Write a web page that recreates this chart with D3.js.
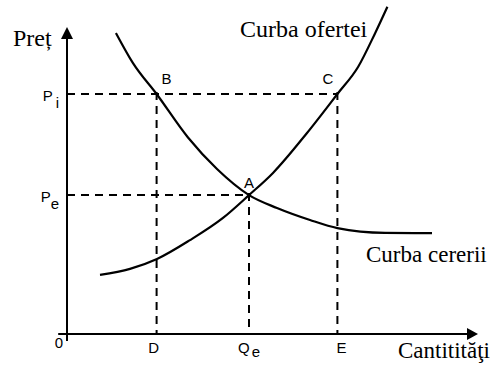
<html>
  <head>
    <meta charset="utf-8" />
    <script src="https://cdnjs.cloudflare.com/ajax/libs/d3/7.6.1/d3.min.js"></script>
    <style>
      body { margin: 0; background: #fff; }
      svg { display: block; }
      .serif { font-family: "Liberation Serif", "Times New Roman", serif; }
      .sans { font-family: "Liberation Sans", Arial, sans-serif; }
    </style>
  </head>
  <body>
    <svg width="493" height="369"></svg>
  </body>

  <script>
    // curves (quantity, price)
    const demandQ = [12.25, 16.5, 22.4, 30.25, 37.5, 45.5, 52.5, 60.75, 67.6, 79.5, 91.25];
    const demandP = [100.3, 90.3, 80, 65.5, 55, 46.3, 42, 38, 35.3, 33.7, 33.6];
    const supplyQ = [8.25, 15.75, 22.5, 30.75, 39, 45.5, 51.5, 60, 67.6, 72.8, 77, 80.1];
    const supplyP = [19.7, 21.7, 25, 31.3, 38.7, 46.3, 53.7, 67, 80, 89.1, 100.2, 109.1];

    // marked points
    const pointNames = ["B", "C", "A"];
    const pointQ = [22.4, 67.6, 45.5];
    const pointP = [80, 80, 46.3];

    // axis labels
    const priceNames = ["i", "e"];
    const priceValues = [80, 46.3];
    const qtyNames = ["D", "Q", "E"];
    const qtySubs = ["", "e", ""];
    const qtyValues = [22.4, 45.5, 67.6];

    const svg = d3.select("svg");
    const x = d3.scaleLinear().domain([0, 100]).range([67, 467]);
    const y = d3.scaleLinear().domain([0, 100]).range([334, 34]);

    // dashed guides
    const guides = svg.append("g")
      .attr("stroke", "#000")
      .attr("stroke-width", 2)
      .attr("stroke-dasharray", "8,6")
      .attr("fill", "none");
    // horizontal: each price level runs out to the right-most point on it
    priceValues.forEach((p) => {
      const qMax = d3.max(pointQ.filter((q, i) => pointP[i] === p));
      guides.append("line")
        .attr("x1", x(0)).attr("x2", x(qMax))
        .attr("y1", y(p)).attr("y2", y(p));
    });
    pointQ.forEach((q, i) => {
      guides.append("line")
        .attr("x1", x(q)).attr("x2", x(q))
        .attr("y1", y(pointP[i]) - 2).attr("y2", y(0));
    });

    // curves
    const line = d3.line()
      .x((d) => x(d[0]))
      .y((d) => y(d[1]))
      .curve(d3.curveMonotoneX);
    svg.append("path")
      .attr("d", line(d3.zip(demandQ, demandP)))
      .attr("fill", "none").attr("stroke", "#000").attr("stroke-width", 2.2);
    svg.append("path")
      .attr("d", line(d3.zip(supplyQ, supplyP)))
      .attr("fill", "none").attr("stroke", "#000").attr("stroke-width", 2.2);

    // axes with arrows
    const xEnd = 102.75, yEnd = 102.3;
    svg.append("line")
      .attr("x1", x(-2.2)).attr("x2", x(xEnd) - 8)
      .attr("y1", y(0)).attr("y2", y(0))
      .attr("stroke", "#000").attr("stroke-width", 2);
    svg.append("line")
      .attr("x1", x(0)).attr("x2", x(0))
      .attr("y1", y(-2.3)).attr("y2", y(yEnd) + 8)
      .attr("stroke", "#000").attr("stroke-width", 2);
    svg.append("path")
      .attr("d", `M${x(xEnd)},${y(0)} L${x(xEnd) - 11},${y(0) - 6} L${x(xEnd) - 11},${y(0) + 6} Z`)
      .attr("fill", "#000");
    svg.append("path")
      .attr("d", `M${x(0)},${y(yEnd)} L${x(0) - 6},${y(yEnd) + 12} L${x(0) + 6},${y(yEnd) + 12} Z`)
      .attr("fill", "#000");

    // serif titles
    svg.append("text").attr("class", "serif")
      .attr("x", 13).attr("y", 46).attr("font-size", 24).text("Preț");
    svg.append("text").attr("class", "serif")
      .attr("x", 398).attr("y", 358).attr("font-size", 23).text("Cantitităţi");
    svg.append("text").attr("class", "serif")
      .attr("x", 240).attr("y", 37).attr("font-size", 24).text("Curba ofertei");
    svg.append("text").attr("class", "serif")
      .attr("x", 366).attr("y", 262).attr("font-size", 23).text("Curba cererii");

    // point letters
    const pointOffsets = [[5, -10, "start"], [-4, -10, "end"], [0, -7, "middle"]];
    pointNames.forEach((n, i) => {
      svg.append("text").attr("class", "sans")
        .attr("x", x(pointQ[i]) + pointOffsets[i][0])
        .attr("y", y(pointP[i]) + pointOffsets[i][1])
        .attr("text-anchor", pointOffsets[i][2])
        .attr("font-size", 15).text(n);
    });

    // price labels P_i, P_e
    priceNames.forEach((n, i) => {
      const t = svg.append("text").attr("class", "sans")
        .attr("x", x(0) - 8).attr("y", y(priceValues[i]) + 7)
        .attr("text-anchor", "end").attr("font-size", 15);
      t.append("tspan").text("P");
      t.append("tspan").attr("dy", 7).attr("dx", n === "i" ? 3 : 0).text(n);
    });

    // quantity labels
    const qtyShift = [-3, 0, 4];
    qtyNames.forEach((n, i) => {
      const t = svg.append("text").attr("class", "sans")
        .attr("x", x(qtyValues[i]) + qtyShift[i]).attr("y", y(0) + 19)
        .attr("text-anchor", "middle").attr("font-size", 15);
      t.append("tspan").text(n);
      if (qtySubs[i]) t.append("tspan").attr("dy", 4).attr("dx", 2).text(qtySubs[i]);
    });
    svg.append("text").attr("class", "sans")
      .attr("x", x(0) - 4).attr("y", y(0) + 14)
      .attr("text-anchor", "end").attr("font-size", 15).text("0");
  </script>
</html>
